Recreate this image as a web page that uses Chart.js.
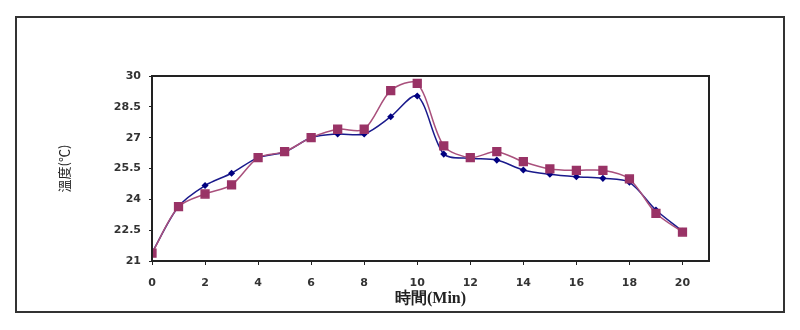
<!DOCTYPE html>
<html>
<head>
<meta charset="utf-8">
<script src="https://cdn.jsdelivr.net/npm/chart.js@4/dist/chart.umd.min.js"></script>
<style>
  html, body { margin: 0; padding: 0; background: #fff; }
  #wrap { width: 800px; height: 330px; }
</style>
</head>
<body>
<div id="wrap"><canvas id="myChart" width="800" height="330"></canvas></div>
<script>
// time in minutes
const minutes = [0, 1, 2, 3, 4, 5, 6, 7, 8, 9, 10, 11, 12, 13, 14, 15, 16, 17, 18, 19, 20];
// blue series (small diamonds)
const tempBlue = [21.4, 23.65, 24.67, 25.27, 26.03, 26.3, 27.0, 27.18, 27.18, 28.02, 29.03, 26.2, 26.0, 25.91, 25.43, 25.22, 25.1, 25.02, 24.83, 23.48, 22.45];
// plum series (squares)
const tempPlum = [21.38, 23.64, 24.26, 24.7, 26.03, 26.32, 27.0, 27.41, 27.41, 29.29, 29.64, 26.6, 26.03, 26.32, 25.83, 25.48, 25.41, 25.41, 24.99, 23.32, 22.41];
const yTicks = [21, 22.5, 24, 25.5, 27, 28.5, 30];
const xTicks = [0, 2, 4, 6, 8, 10, 12, 14, 16, 18, 20];

const toPoints = (ys) => minutes.map((m, i) => ({x: m, y: ys[i]}));

const framePlugin = {
  id: 'frame',
  beforeDraw(chart) {
    const c = chart.ctx;
    c.save();
    c.fillStyle = '#fff';
    c.fillRect(0, 0, chart.width, chart.height);
    c.strokeStyle = '#333';
    c.lineWidth = 2;
    c.strokeRect(16, 17, 768, 295);
    c.restore();
  },
  afterDatasetsDraw(chart) {
    const a = chart.chartArea;
    const c = chart.ctx;
    c.save();
    c.strokeStyle = '#222';
    c.lineWidth = 2;
    c.strokeRect(a.left, a.top, a.right - a.left, a.bottom - a.top);
    c.restore();
  }
};

const tickFont = {family: 'DejaVu Sans', size: 11, weight: 'bold'};

const ctx = document.getElementById('myChart').getContext('2d');
const myChart = new Chart(ctx, {
  type: 'line',
  data: {
    datasets: [
      {
        label: 'plum',
        data: toPoints(tempPlum),
        borderColor: '#a9507c',
        borderWidth: 1.5,
        backgroundColor: '#993366',
        pointBackgroundColor: '#993366',
        pointBorderColor: '#993366',
        pointStyle: 'rect',
        pointRadius: 5.5,
        tension: 0.3,
        fill: false
      },
      {
        label: 'blue',
        data: toPoints(tempBlue),
        borderColor: '#1a1a8c',
        borderWidth: 1.5,
        backgroundColor: '#000080',
        pointBackgroundColor: '#000080',
        pointBorderColor: '#000080',
        pointStyle: 'rectRot',
        pointRadius: 2.5,
        tension: 0.3,
        fill: false
      }
    ]
  },
  options: {
    responsive: false,
    animation: false,
    layout: {padding: {left: 56, right: 91, top: 76, bottom: 0}},
    plugins: {
      legend: {display: false},
      tooltip: {enabled: false}
    },
    scales: {
      x: {
        type: 'linear',
        min: 0,
        max: 21,
        afterBuildTicks: (scale) => { scale.ticks = xTicks.map(v => ({value: v})); },
        afterFit: (scale) => { scale.height = 69; },
        border: {display: false},
        grid: {display: true, drawOnChartArea: false, color: '#222', tickLength: 4},
        ticks: {font: tickFont, color: '#333', padding: 12, maxRotation: 0},
        title: {
          display: true,
          text: '時間(Min)',
          font: {family: 'Liberation Serif', size: 16, weight: 'bold'},
          color: '#222',
          padding: {top: 0, bottom: 22}
        }
      },
      y: {
        min: 21,
        max: 30,
        afterBuildTicks: (scale) => { scale.ticks = yTicks.map(v => ({value: v})); },
        afterFit: (scale) => { scale.width = 152 - 56; },
        border: {display: false},
        grid: {display: true, drawOnChartArea: false, color: '#222', tickLength: 3},
        ticks: {font: tickFont, color: '#333', padding: 8},
        title: {
          display: true,
          text: '溫度(℃)',
          font: {family: 'Noto Sans CJK TC', size: 13},
          color: '#222',
          padding: 0
        }
      }
    }
  },
  plugins: [framePlugin]
});
</script>
</body>
</html>
